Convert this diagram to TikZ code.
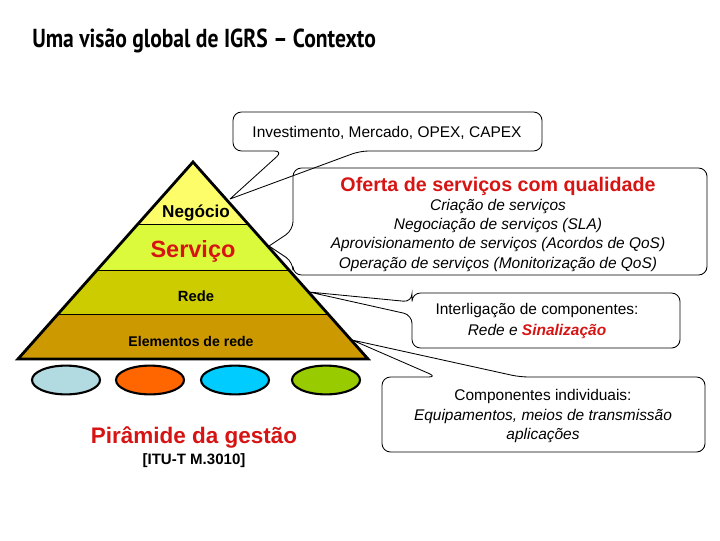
\documentclass[tikz,border=0pt]{standalone}
\usepackage{fontspec}
\usepackage{graphicx}
\setmainfont{Liberation Sans}
\newfontfamily\titlefont{PT Sans}
\usetikzlibrary{calc,shapes.geometric}
\definecolor{TopYellow}{RGB}{253,253,105}
\definecolor{ServiceLime}{RGB}{220,250,60}
\definecolor{NetOlive}{RGB}{204,204,0}
\definecolor{ElemGold}{RGB}{204,153,0}
\definecolor{TitleRed}{RGB}{215,20,20}
\definecolor{DiscBlue}{RGB}{178,218,225}
\definecolor{DiscOrange}{RGB}{255,102,0}
\definecolor{DiscCyan}{RGB}{0,204,255}
\definecolor{DiscGreen}{RGB}{153,204,0}

\begin{document}
\begin{tikzpicture}[x=0.025cm,y=-0.025cm,
    bubble/.style={line width=0.6pt,rounded corners=6pt},
    bubbletext/.style={align=center,inner sep=0pt},
    disc/.style={ellipse,draw,line width=1.5pt,minimum width=1.7cm,minimum height=0.72cm,inner sep=0pt},
    divider/.style={line width=0.6pt}]
  \useasboundingbox (0,0) rectangle (720,540);

  \node[anchor=base west,inner sep=0pt,font=\titlefont\bfseries\fontsize{18.5}{20}\selectfont] (title) at (32,47) {\scalebox{0.83}[1]{Uma visão global de IGRS – Contexto}};

  % pyramid
  \coordinate (apex) at (193,162);
  \coordinate (bl) at (18,359);
  \coordinate (br) at (368,359);
  \coordinate (l1) at ($(apex)!0.3147!(bl)$);
  \coordinate (r1) at ($(apex)!0.3147!(br)$);
  \coordinate (l2) at ($(apex)!0.548!(bl)$);
  \coordinate (r2) at ($(apex)!0.548!(br)$);
  \coordinate (l3) at ($(apex)!0.7716!(bl)$);
  \coordinate (r3) at ($(apex)!0.7716!(br)$);
  \fill[TopYellow] (apex) -- (r1) -- (l1) -- cycle;
  \fill[ServiceLime] (l1) -- (r1) -- (r2) -- (l2) -- cycle;
  \fill[NetOlive] (l2) -- (r2) -- (r3) -- (l3) -- cycle;
  \fill[ElemGold] (l3) -- (r3) -- (br) -- (bl) -- cycle;
  \draw[divider] (l1) -- (r1) (l2) -- (r2) (l3) -- (r3);
  \draw[line width=2pt,line join=miter] (apex) -- (br) -- (bl) -- cycle;

  \node[anchor=base,inner sep=0pt,font=\bfseries\fontsize{12.2}{14}\selectfont] (neg) at (196,217) {Negócio};
  \node[anchor=base,inner sep=0pt,text=TitleRed,font=\bfseries\fontsize{16.7}{18}\selectfont] (serv) at (193,257) {Serviço};
  \node[anchor=base,inner sep=0pt,font=\bfseries\fontsize{10.5}{12}\selectfont] (rede) at (196,301) {Rede};
  \node[anchor=base,inner sep=0pt,font=\bfseries\fontsize{10}{12}\selectfont] (elem) at (191,346) {Elementos de rede};

  % elements
  \node[disc,fill=DiscBlue] (d1) at (66,380) {};
  \node[disc,fill=DiscOrange] (d2) at (150,380) {};
  \node[disc,fill=DiscCyan] (d3) at (235,380) {};
  \node[disc,fill=DiscGreen] (d4) at (326,380) {};

  \node[anchor=base,inner sep=0pt,text=TitleRed,font=\bfseries\fontsize{16}{18}\selectfont] (pyr) at (194,443) {Pirâmide da gestão};
  \node[anchor=base,inner sep=0pt,font=\bfseries\fontsize{10.7}{12}\selectfont] (itu) at (194,464) {[ITU-T M.3010]};

  % callouts
  \coordinate (tipA) at (230,199);
  \coordinate (tipB) at (269,246);
  \coordinate (tipC) at (309,292);
  \coordinate (tipD) at (352,340);
  \draw[bubble] (tipA) -- (360,151) -- (542,151) -- (542,112) -- (233,112) -- (233,151) -- (283,151) -- (tipA);
  \draw[bubble] (tipB) -- (293,262) -- (293,275) -- (707,275) -- (707,168) -- (293,168) -- (293,230) -- (tipB);
  \draw[bubble] (tipC) -- (412,315) -- (412,348) -- (680,348) -- (680,293) -- (412,293) -- (412,302) -- (tipC);
  \draw[bubble] (tipD) -- (520,377) -- (705,377) -- (705,452) -- (382,452) -- (382,377) -- (437,377) -- (tipD);

  \node[anchor=base,inner sep=0pt,font=\fontsize{11}{13}\selectfont] (money) at (387,137) {Investimento, Mercado, OPEX, CAPEX};
  \node[bubbletext,font=\fontsize{11}{13.7}\selectfont] (offer) at (498,224)
    {{\color{TitleRed}\bfseries\fontsize{14}{13.7}\selectfont Oferta de serviços com qualidade}\\
     \itshape Criação de serviços\\
     \itshape Negociação de serviços (SLA)\\
     \itshape Aprovisionamento de serviços (Acordos de QoS)\\
     \itshape Operação de serviços (Monitorização de QoS)};
  \node[bubbletext,font=\fontsize{11}{14.7}\selectfont] (link) at (537,321)
    {Interligação de componentes:\\
     \itshape Rede e {\color{TitleRed}\bfseries Sinalização}};
  \node[bubbletext,font=\fontsize{11}{13.8}\selectfont] (comp) at (543,416)
    {Componentes individuais:\\
     \itshape Equipamentos, meios de transmissão\\
     \itshape aplicações};
\end{tikzpicture}
\end{document}
